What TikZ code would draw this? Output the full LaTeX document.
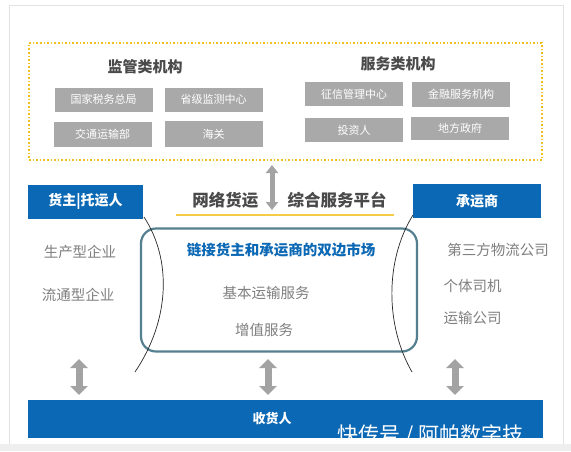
\documentclass[tikz,border=0pt]{standalone}
\usepackage{fontspec}
\setmainfont{Noto Sans CJK SC}
\usetikzlibrary{arrows.meta}
\definecolor{bblue}{HTML}{0B68B5}
\definecolor{gbox}{HTML}{A9A9A9}
\definecolor{garr}{HTML}{A3A3A3}
\definecolor{txtg}{HTML}{7F7F7F}
\definecolor{txtd}{HTML}{4A4A4A}
\definecolor{teal}{HTML}{55808F}
\definecolor{ydot}{HTML}{F0C020}
\definecolor{yline}{HTML}{F5CB4A}
\definecolor{frame}{HTML}{E2E2E2}
\tikzset{
  gbx/.style={fill=gbox, text=white, font=\fontsize{11}{12}\selectfont, minimum width=98pt, minimum height=24pt, inner sep=0pt},
  bbx/.style={fill=bblue, text=white, font=\fontsize{14}{16}\selectfont\bfseries, inner sep=0pt},
  ttl/.style={text=txtd, font=\fontsize{15}{17}\selectfont\bfseries},
  side/.style={text=txtg, font=\fontsize{14.5}{16}\selectfont},
  dbl/.style={draw=garr, line width=7pt, {Triangle[width=17pt,length=9pt]}-{Triangle[width=17pt,length=9pt]}},
  dbls/.style={draw=garr, line width=5pt, {Triangle[width=12pt,length=8pt]}-{Triangle[width=12pt,length=8pt]}},
  arc/.style={draw=black!85, line width=0.7pt}
}
\begin{document}
\begin{tikzpicture}[x=1pt,y=-1pt]
\useasboundingbox (0,0) rectangle (571,451);
\fill[white] (0,0) rectangle (571,451);
\fill[frame!60] (0,444) rectangle (571,451);
\draw[frame, line width=1pt] (9,5) -- (563,5) -- (563,444);
\draw[frame, line width=1pt] (9,5) -- (9,444);
% dotted box
\node[draw=ydot, dotted, line width=1.6pt, minimum width=513pt, minimum height=117pt, inner sep=0pt] (top) at (285.5,101.5) {};
\node[ttl] (jg) at (145,67) {监管类机构};
\node[ttl] (fw) at (398,64) {服务类机构};
\node[gbx] (g1) at (103.5,99.5) {国家税务总局};
\node[gbx] (g2) at (213.5,99.5) {省级监测中心};
\node[gbx, minimum height=25pt] (g3) at (102.5,134.5) {交通运输部};
\node[gbx, minimum height=26pt] (g4) at (213.5,134) {海关};
\node[gbx] (s1) at (354,94) {征信管理中心};
\node[gbx, minimum height=25pt] (s2) at (461,94.5) {金融服务机构};
\node[gbx] (s3) at (354,130) {投资人};
\node[gbx, minimum height=23pt] (s4) at (460,128.5) {地方政府};
% platform
\node[text=txtd, font=\fontsize{16.5}{18}\selectfont\bfseries, anchor=east] (pl1) at (262,200) {网络货运};
\node[text=txtd, font=\fontsize{16.5}{18}\selectfont\bfseries, anchor=west] (pl2) at (284,200) {综合服务平台};
\coordinate (ul1) at (176,215);
\coordinate (ul2) at (394,215);
\draw[yline, line width=2.5pt] (ul1) -- (ul2);
\coordinate (upa) at (272,165);
\coordinate (upb) at (272,210);
\draw[dbls] (upa) -- (upb);
% shipper / carrier
\node[bbx, minimum width=115pt, minimum height=34pt] (hz) at (85.5,201.5) {货主|托运人};
\node[bbx, minimum width=128pt, minimum height=34pt] (cy) at (477,201) {承运商};
% market box
\node[draw=teal, line width=2.2pt, rounded corners=15pt, minimum width=276pt, minimum height=123pt, inner sep=0pt] (mk) at (279,290) {};
\node[text=bblue, font=\fontsize{14.5}{16}\selectfont\bfseries] (mt) at (281,250) {链接货主和承运商的双边市场};
\node[side] (m1) at (266,293) {基本运输服务};
\node[side] (m2) at (264,330) {增值服务};
% side lists
\node[side] (l1) at (80,252) {生产型企业};
\node[side] (l2) at (78,295) {流通型企业};
\node[side] (r1) at (498,250) {第三方物流公司};
\node[side, anchor=west] (r2) at (440,286) {个体司机};
\node[side, anchor=west] (r3) at (440,318) {运输公司};
% arcs
\coordinate (la) at (144,217);
\coordinate (lb) at (135,372);
\draw[arc] (la) .. controls (172,260) and (170,320) .. (lb);
\coordinate (ra) at (413,215);
\coordinate (rb) at (412,372);
\draw[arc] (ra) .. controls (385,260) and (385,325) .. (rb);
% bottom
\node[fill=bblue, minimum width=515pt, minimum height=38pt, inner sep=0pt] (sh) at (285.5,419) {};
\node[text=white, font=\fontsize{13}{14}\selectfont\bfseries] (sht) at (272,419) {收货人};
\begin{scope}
\clip (sh.south west) rectangle (sh.north east);
\node[text=white, font=\fontsize{21}{22}\selectfont, anchor=west] (wm) at (334,435) {快传号 / 阿帕数字技};
\end{scope}
\coordinate (a1a) at (79,359); \coordinate (a1b) at (79,395);
\coordinate (a2a) at (268,359); \coordinate (a2b) at (268,395);
\coordinate (a3a) at (455,359); \coordinate (a3b) at (455,395);
\draw[dbl] (a1a) -- (a1b);
\draw[dbl] (a2a) -- (a2b);
\draw[dbl] (a3a) -- (a3b);
\end{tikzpicture}
\end{document}
